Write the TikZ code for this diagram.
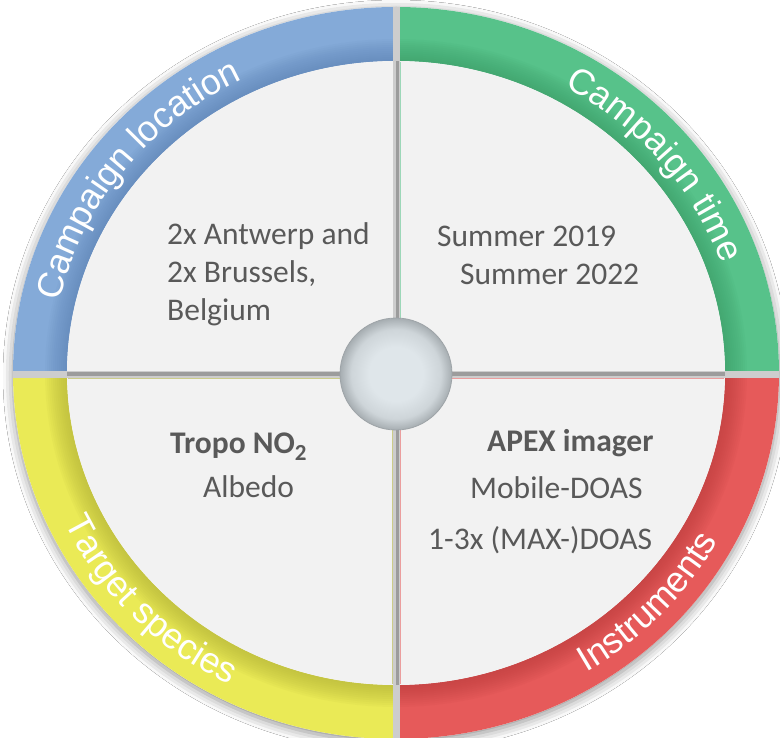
\documentclass[tikz,border=0pt]{standalone}
\usepackage{fontspec}
\setmainfont{Carlito}
\newfontfamily\curvefont{Liberation Sans}
\usetikzlibrary{decorations.text,shadows.blur}

\definecolor{ringblue}{HTML}{84AAD8}
\definecolor{ringbluedk}{HTML}{5A80B4}
\definecolor{ringgreen}{HTML}{57C28A}
\definecolor{ringgreendk}{HTML}{3A9A66}
\definecolor{ringyellow}{HTML}{EAEA56}
\definecolor{ringyellowdk}{HTML}{AEAE36}
\definecolor{ringred}{HTML}{E65A5A}
\definecolor{ringreddk}{HTML}{B83C3C}
\definecolor{innergray}{HTML}{F2F2F2}
\definecolor{gapgray}{HTML}{CDCDCD}
\definecolor{gapdark}{HTML}{9C9C9C}
\definecolor{textgray}{HTML}{595959}
\definecolor{hubin}{HTML}{DFE6EA}
\definecolor{hubout}{HTML}{A6ADB1}
\definecolor{hubedge}{HTML}{9EA4A8}

% the path's edge sits at 25bp
\pgfdeclareradialshading{hub}{\pgfpoint{0bp}{0bp}}{%
  color(0bp)=(hubin); color(12bp)=(hubin); color(20bp)=(hubin!70!hubout);
  color(25bp)=(hubout); color(50bp)=(hubout)}

% one coloured quarter of the outer ring, from angle #1 to angle #2
\newcommand\ringquarter[3]{%
  \path[fill=#3]
    (#1:383 and 366) arc[start angle=#1, end angle=#2, x radius=383, y radius=366]
    -- (#2:329 and 312) arc[start angle=#2, end angle=#1, x radius=329, y radius=312]
    -- cycle;
  \begin{scope}
    \clip (#1:383 and 366) arc[start angle=#1, end angle=#2, x radius=383, y radius=366]
      -- (#2:329 and 312) arc[start angle=#2, end angle=#1, x radius=329, y radius=312]
      -- cycle;
    \foreach \w in {44,40,...,4}
      \draw[#3dk, opacity=0.07, line width=\w] (0,0) ellipse[x radius=329, y radius=312];
  \end{scope}}

\tikzset{
  body/.style={font=\fontsize{31.5}{37.5}\selectfont, text=textgray,
    inner sep=0pt, anchor=base west},
  bodybold/.style={body, font=\fontsize{31.5}{37.5}\selectfont\bfseries},
  curved/.style={decorate, decoration={text along path, text align=center,
    text={|\curvefont\fontsize{36}{36}\selectfont\color{white}|#1}}}
}

\begin{document}
\begin{tikzpicture}[x=1pt,y=1pt]
\useasboundingbox (0,0) rectangle (780,-738);
\fill[white] (0,0) rectangle (780,-738);

\begin{scope}[shift={(396,-373)}]
  % soft shadow under the disc
  \fill[white, blur shadow={shadow xshift=0pt, shadow yshift=-3pt,
      shadow blur radius=10pt, shadow opacity=45}]
    (0,0) ellipse[x radius=383, y radius=366];

  % coloured ring
  \ringquarter{90}{180}{ringblue}
  \ringquarter{0}{90}{ringgreen}
  \ringquarter{180}{270}{ringyellow}
  \ringquarter{270}{360}{ringred}

  % light inner field
  \fill[innergray] (0,0) ellipse[x radius=329, y radius=312];

  % gaps between the quarters
  \begin{scope}
    \clip (0,0) ellipse[x radius=383, y radius=366];
    \fill[gapgray] (-3,-370) rectangle (4,370);
    \fill[gapgray] (-390,2) rectangle (390,-5);
  \end{scope}
  \fill[gapdark] (0,-312) rectangle (3,312);
  \fill[gapdark] (-329,1) rectangle (329,-3);
  \begin{scope}[line width=0.8, opacity=0.55]
    \draw[ringgreen] (4.4,0) -- (4.4,311);
    \draw[ringred] (4.4,-5) -- (4.4,-311);
    \draw[ringyellowdk] (-3.4,-5) -- (-3.4,-311);
    \draw[ringyellowdk] (-3,-5.4) -- (-328,-5.4);
    \draw[ringred] (4,-5.4) -- (328,-5.4);
  \end{scope}

  % ring labels
  \path[curved={Campaign location}]
    (172:345 and 328) arc[start angle=172, end angle=112, x radius=345, y radius=328];
  \path[curved={Campaign time}]
    (66:345 and 328) arc[start angle=66, end angle=14, x radius=345, y radius=328];
  \path[curved={Target species}]
    (194:367 and 350) arc[start angle=194, end angle=254, x radius=367, y radius=350];
  \path[curved={Instruments}]
    (288:367 and 350) arc[start angle=288, end angle=345, x radius=367, y radius=350];

  % hub
  \shade[shading=hub] (0,-1) circle (56);
  \draw[hubedge, line width=0.8] (0,-1) circle (56);
\end{scope}

% quarter contents
\node[body] (loc1) at (167,-245) {2x Antwerp and};
\node[body] (loc2) at (167,-283) {2x Brussels,};
\node[body] (loc3) at (167,-321) {Belgium};

\node[body] (time1) at (437,-247) {Summer 2019};
\node[body] (time2) at (460,-285) {Summer 2022};

\node[bodybold] (spec1) at (170,-453) {Tropo NO\raisebox{-8pt}{\fontsize{23}{23}\selectfont 2}};
\node[body] (spec2) at (203,-497) {Albedo};

\node[bodybold] (inst1) at (487,-451) {APEX imager};
\node[body] (inst2) at (470,-498) {Mobile-DOAS};
\node[body] (inst3) at (428,-549) {1-3x (MAX-)DOAS};
\end{tikzpicture}
\end{document}
